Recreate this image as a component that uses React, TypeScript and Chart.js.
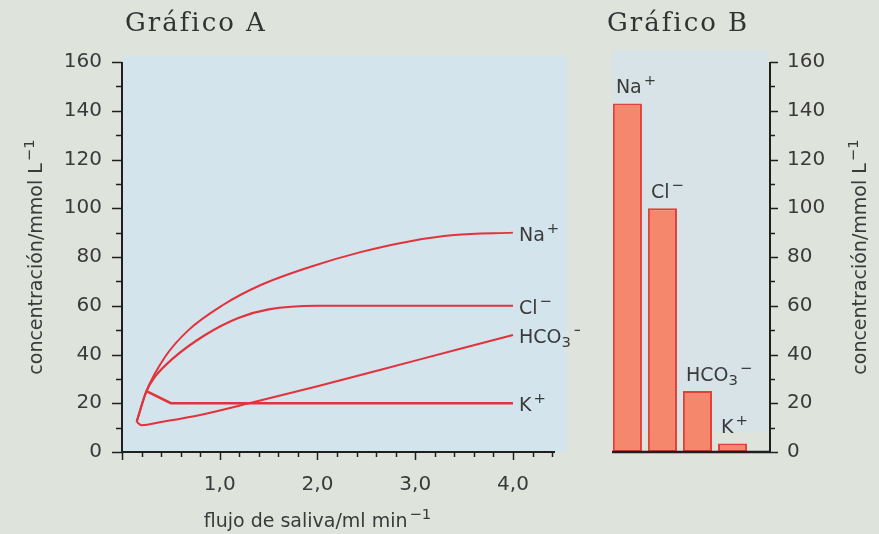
import React, { useEffect, useRef } from 'react';
import { Chart, registerables } from 'chart.js';

Chart.register(...registerables);

// ---------- data ----------
const flowNa = [0.15, 0.25, 0.44, 0.68, 1.02, 1.42, 1.93, 2.44, 2.95, 3.4, 4.0];
const naValues = [12.4, 25, 39, 50, 60, 68.5, 76, 82, 86.5, 89, 90];

const flowCl = [0.15, 0.25, 0.34, 0.51, 0.85, 1.19, 1.5, 2.0, 4.0];
const clValues = [12.4, 25, 31, 38, 48, 55, 58.5, 60, 60];

const flowHco3 = [0.15, 0.2, 0.4, 0.8, 1.3, 2.0, 3.0, 4.0];
const hco3Values = [12.4, 11, 12.3, 15.2, 20, 27, 37.5, 48];

const flowK = [0.25, 0.5, 4.0];
const kValues = [25, 20, 20];

const barPositions = [0, 1, 2, 3];
const barValues = [143, 100, 25, 3.5];

const xTickValues = [1, 2, 3, 4];
const yTickValues = [0, 20, 40, 60, 80, 100, 120, 140, 160];
const yMinorStep = 10;
const xMinorStep = 0.2;

type Part = { t: string; sup?: boolean; sub?: boolean };
const ionNa: Part[] = [{ t: 'Na' }, { t: '+', sup: true }];
const ionCl: Part[] = [{ t: 'Cl' }, { t: '−', sup: true }];
const ionHco3: Part[] = [{ t: 'HCO' }, { t: '3', sub: true }, { t: '−', sup: true }];
const ionK: Part[] = [{ t: 'K' }, { t: '+', sup: true }];
const lineLabels = [ionNa, ionCl, ionHco3, ionK];
const barLabels = [ionNa, ionCl, ionHco3, ionK];

const titleA = 'Gráfico A';
const titleB = 'Gráfico B';
const yTitle: Part[] = [{ t: 'concentración/mmol L' }, { t: '−1', sup: true }];
const xTitle: Part[] = [{ t: 'flujo de saliva/ml min' }, { t: '−1', sup: true }];

// ---------- style ----------
const PAGE_BG = '#dee3dc';
const PLOT_BG = '#d3e4ec';
const TEXT = '#3a3a3a';
const AXIS = '#1f1f1f';
const LINE_RED = '#e2323b';
const BAR_FILL = '#f5886c';
const BAR_EDGE = '#e2403a';
const SANS = '"DejaVu Sans", sans-serif';
const SERIF = '"DejaVu Serif", serif';
const FS = 19;
const TICK_FS = 20;

function drawRich(
  ctx: CanvasRenderingContext2D,
  parts: Part[],
  x: number,
  y: number,
  size: number,
  align: 'left' | 'center'
) {
  ctx.save();
  ctx.textBaseline = 'alphabetic';
  ctx.textAlign = 'left';
  const widths = parts.map((p) => {
    const s = p.sup || p.sub ? size * 0.78 : size;
    ctx.font = `${s}px ${SANS}`;
    return ctx.measureText(p.t).width + (p.sup ? 2 : 0);
  });
  const total = widths.reduce((a, b) => a + b, 0);
  let cx = align === 'center' ? x - total / 2 : x;
  parts.forEach((p, i) => {
    const s = p.sup || p.sub ? size * 0.78 : size;
    ctx.font = `${s}px ${SANS}`;
    let dy = 0;
    if (p.sup) dy = -size * 0.42;
    if (p.sub) dy = size * 0.22;
    ctx.fillText(p.t, cx + (p.sup ? 2 : 0), y + dy);
    cx += widths[i];
  });
  ctx.restore();
}

const pts = (xs: number[], ys: number[]) => xs.map((x, i) => ({ x, y: ys[i] }));

const chartADecor = {
  id: 'chartADecor',
  beforeDatasetsDraw(chart: any) {
    const { ctx, chartArea: a } = chart;
    ctx.save();
    ctx.fillStyle = PLOT_BG;
    ctx.fillRect(a.left, a.top - 6, a.right - a.left + 12, a.bottom - a.top + 6);
    ctx.restore();
  },
  afterDatasetsDraw(chart: any) {
    const { ctx, chartArea: a } = chart;
    const xs = chart.scales.x;
    const ys = chart.scales.y;
    ctx.save();
    ctx.strokeStyle = AXIS;
    ctx.lineWidth = 2;
    ctx.beginPath();
    ctx.moveTo(a.left, a.top);
    ctx.lineTo(a.left, a.bottom);
    ctx.lineTo(a.right, a.bottom);
    ctx.stroke();
    ctx.lineWidth = 1.5;
    for (let v = 0; v <= 160; v += yMinorStep) {
      const py = Math.round(ys.getPixelForValue(v)) + 0.5;
      const len = v % 20 === 0 ? 10 : 6;
      ctx.beginPath();
      ctx.moveTo(a.left - len, py);
      ctx.lineTo(a.left, py);
      ctx.stroke();
    }
    for (let i = 0; i * xMinorStep <= xs.max + 1e-6; i++) {
      const px = Math.round(xs.getPixelForValue(i * xMinorStep)) + 0.5;
      const len = i % 5 === 0 ? 8 : 5;
      ctx.beginPath();
      ctx.moveTo(px, a.bottom);
      ctx.lineTo(px, a.bottom + len);
      ctx.stroke();
    }
    ctx.fillStyle = TEXT;
    // end labels
    chart.data.datasets.forEach((_: any, di: number) => {
      const meta = chart.getDatasetMeta(di);
      const last = meta.data[meta.data.length - 1];
      drawRich(ctx, lineLabels[di], last.x + 6, last.y + 8, 19, 'left');
    });
    // titles
    ctx.font = `26px ${SERIF}`;
    (ctx as any).letterSpacing = '2px';
    ctx.fillStyle = '#333';
    ctx.textBaseline = 'alphabetic';
    ctx.fillText(titleA, a.left + 3, 31);
    (ctx as any).letterSpacing = '0px';
    ctx.fillStyle = TEXT;
    drawRich(ctx, xTitle, xs.getPixelForValue(2), 527, FS, 'center');
    ctx.translate(42, (a.top + a.bottom) / 2);
    ctx.rotate(-Math.PI / 2);
    drawRich(ctx, yTitle, 0, 0, FS, 'center');
    ctx.restore();
  },
};

const chartBDecor = {
  id: 'chartBDecor',
  beforeDatasetsDraw(chart: any) {
    const { ctx, chartArea: a } = chart;
    ctx.save();
    ctx.fillStyle = '#d7e3e6';
    ctx.fillRect(a.left, a.top - 12, a.right - a.left - 2, a.bottom - a.top - 8);
    ctx.restore();
  },
  afterDatasetsDraw(chart: any) {
    const { ctx, chartArea: a } = chart;
    const ys = chart.scales.y;
    ctx.save();
    ctx.strokeStyle = AXIS;
    ctx.lineWidth = 2.5;
    ctx.beginPath();
    ctx.moveTo(a.left, a.bottom);
    ctx.lineTo(a.right, a.bottom);
    ctx.stroke();
    ctx.lineWidth = 2;
    ctx.beginPath();
    ctx.moveTo(a.right, a.top);
    ctx.lineTo(a.right, a.bottom);
    ctx.stroke();
    ctx.lineWidth = 1.5;
    for (let v = 0; v <= 160; v += yMinorStep) {
      const py = Math.round(ys.getPixelForValue(v)) + 0.5;
      const len = v % 20 === 0 ? 8 : 5;
      ctx.beginPath();
      ctx.moveTo(a.right, py);
      ctx.lineTo(a.right + len, py);
      ctx.stroke();
    }
    ctx.fillStyle = TEXT;
    const meta = chart.getDatasetMeta(0);
    meta.data.forEach((bar: any, i: number) => {
      drawRich(ctx, barLabels[i], bar.x - bar.width / 2 + 3, bar.y - 10, 19, 'left');
    });
    ctx.font = `26px ${SERIF}`;
    (ctx as any).letterSpacing = '2px';
    ctx.fillStyle = '#333';
    ctx.fillText(titleB, a.left - 5, 31);
    (ctx as any).letterSpacing = '0px';
    ctx.fillStyle = TEXT;
    ctx.translate(a.right + 96, (a.top + a.bottom) / 2);
    ctx.rotate(-Math.PI / 2);
    drawRich(ctx, yTitle, 0, 0, FS, 'center');
    ctx.restore();
  },
};

const tickFont = { family: SANS, size: TICK_FS };

export default function App() {
  const refA = useRef<HTMLCanvasElement>(null);
  const refB = useRef<HTMLCanvasElement>(null);

  useEffect(() => {
    const lineDs = (xs: number[], ys: number[], label: string, w: number, smooth: boolean) => ({
      label,
      data: pts(xs, ys),
      borderColor: LINE_RED,
      borderWidth: w,
      pointRadius: 0,
      fill: false,
      tension: smooth ? 0.4 : 0,
      cubicInterpolationMode: smooth ? ('monotone' as const) : ('default' as const),
    });

    const chartA = new Chart(refA.current!, {
      type: 'line',
      data: {
        datasets: [
          lineDs(flowNa, naValues, 'Na+', 2, true),
          lineDs(flowCl, clValues, 'Cl-', 2.2, true),
          lineDs(flowHco3, hco3Values, 'HCO3-', 2, true),
          lineDs(flowK, kValues, 'K+', 2.6, false),
        ],
      },
      options: {
        responsive: false,
        animation: false,
        layout: { padding: { top: 62, right: 25, left: 0, bottom: 0 } },
        plugins: { legend: { display: false }, tooltip: { enabled: false }, title: { display: false } },
        scales: {
          x: {
            type: 'linear',
            min: 0,
            max: 4.43,
            grid: { display: false, drawTicks: false },
            border: { display: false },
            afterBuildTicks: (s: any) => {
              s.ticks = xTickValues.map((v) => ({ value: v }));
            },
            afterFit: (s: any) => {
              s.height = 82;
            },
            ticks: {
              padding: 21,
              font: tickFont,
              color: TEXT,
              maxRotation: 0,
              callback: (v: any) => Number(v).toFixed(1).replace('.', ','),
            },
          },
          y: {
            min: 0,
            max: 160,
            grid: { display: false, drawTicks: false },
            border: { display: false },
            afterBuildTicks: (s: any) => {
              s.ticks = yTickValues.map((v) => ({ value: v }));
            },
            afterFit: (s: any) => {
              s.width = 122;
            },
            ticks: { padding: 20, font: tickFont, color: TEXT },
          },
        },
      },
      plugins: [chartADecor],
    });

    const chartB = new Chart(refB.current!, {
      type: 'bar',
      data: {
        datasets: [
          {
            data: pts(barPositions, barValues),
            backgroundColor: BAR_FILL,
            borderColor: BAR_EDGE,
            borderWidth: 2,
            borderSkipped: false,
            barPercentage: 0.83,
            categoryPercentage: 1,
          },
        ],
      },
      options: {
        responsive: false,
        animation: false,
        layout: { padding: { top: 62, right: 0, left: 32, bottom: 82 } },
        plugins: { legend: { display: false }, tooltip: { enabled: false }, title: { display: false } },
        scales: {
          x: {
            type: 'linear',
            min: -0.44,
            max: 4.07,
            offset: false,
            display: false,
          },
          y: {
            position: 'right',
            min: 0,
            max: 160,
            grid: { display: false, drawTicks: false },
            border: { display: false },
            afterBuildTicks: (s: any) => {
              s.ticks = yTickValues.map((v) => ({ value: v }));
            },
            afterFit: (s: any) => {
              s.width = 109;
            },
            ticks: { padding: 17, font: tickFont, color: TEXT },
          },
        },
      },
      plugins: [chartBDecor],
    });

    return () => {
      chartA.destroy();
      chartB.destroy();
    };
  }, []);

  return (
    <div style={{ position: 'fixed', left: 0, top: 0, width: 879, height: 534, background: PAGE_BG, overflow: 'hidden' }}>
      <canvas ref={refA} width={580} height={534} style={{ position: 'absolute', left: 0, top: 0, width: 580, height: 534 }} />
      <canvas ref={refB} width={299} height={534} style={{ position: 'absolute', left: 580, top: 0, width: 299, height: 534 }} />
    </div>
  );
}
